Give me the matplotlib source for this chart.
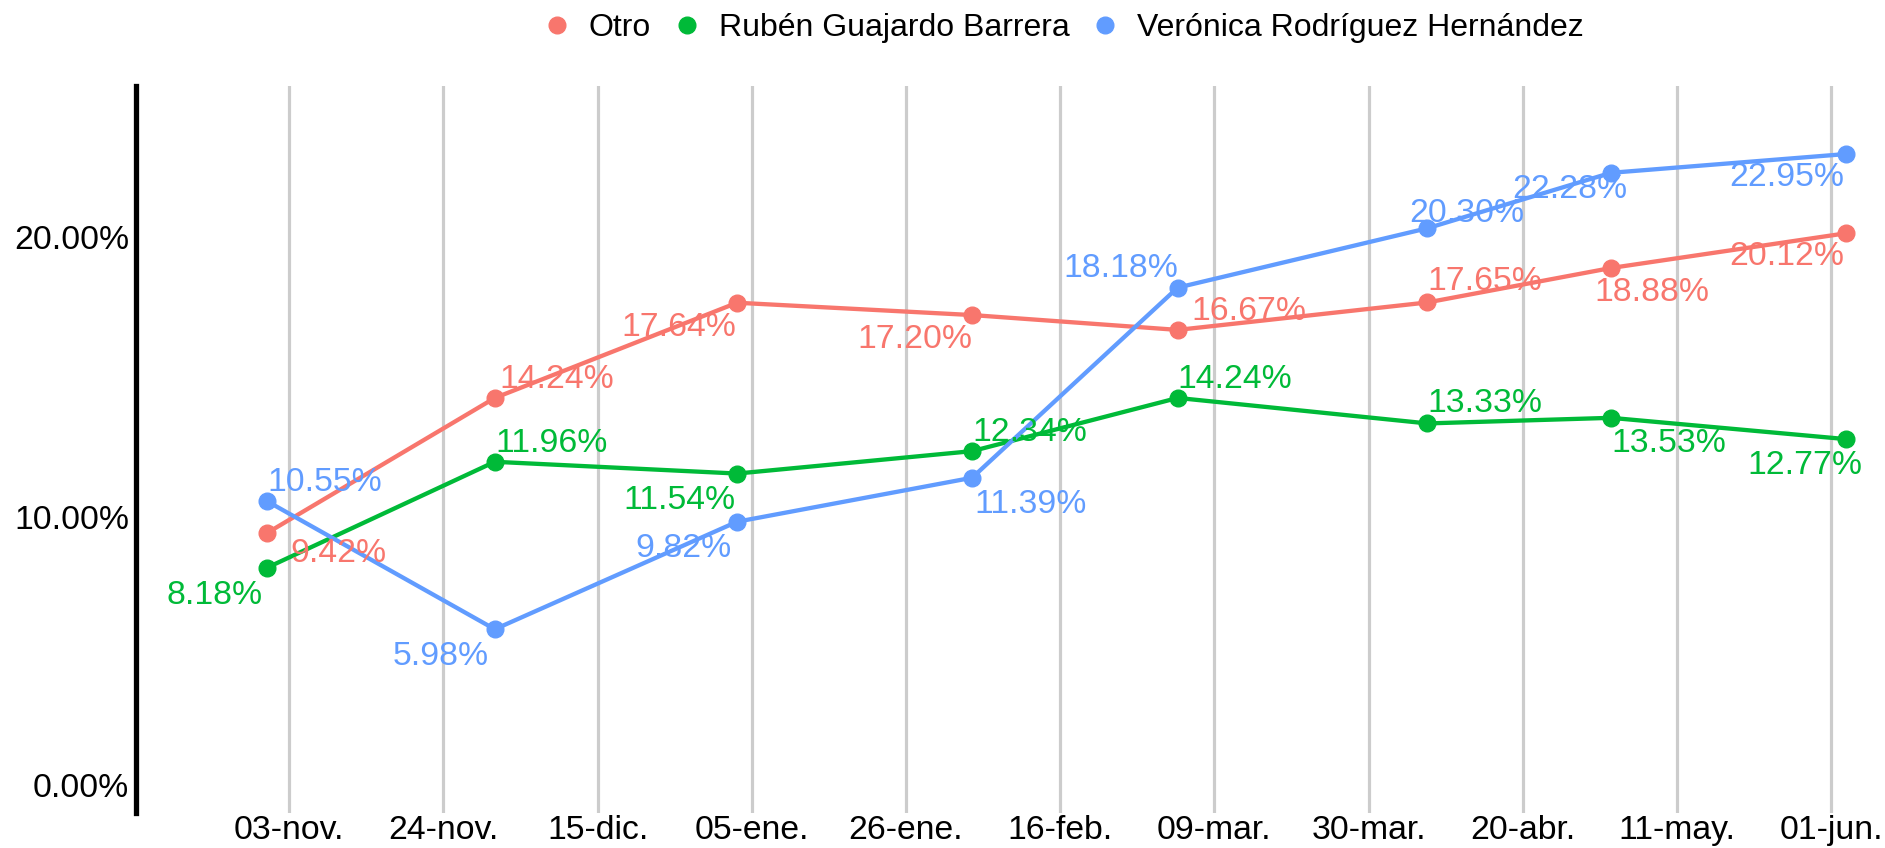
import datetime as dt

import matplotlib
matplotlib.use("Agg")
import matplotlib.pyplot as plt
from matplotlib.lines import Line2D

plt.rcParams["font.family"] = ["Liberation Sans", "DejaVu Sans"]

# datos de las encuestas
fechas = ["2020-10-31", "2020-12-01", "2021-01-03", "2021-02-04",
          "2021-03-04", "2021-04-07", "2021-05-02", "2021-06-03"]
otro = [9.42, 14.24, 17.64, 17.20, 16.67, 17.65, 18.88, 20.12]
ruben = [8.18, 11.96, 11.54, 12.34, 14.24, 13.33, 13.53, 12.77]
veronica = [10.55, 5.98, 9.82, 11.39, 18.18, 20.30, 22.28, 22.95]
nombres = ["Otro", "Rubén Guajardo Barrera", "Verónica Rodríguez Hernández"]

tick_fechas = ["2020-11-03", "2020-11-24", "2020-12-15", "2021-01-05",
               "2021-01-26", "2021-02-16", "2021-03-09", "2021-03-30",
               "2021-04-20", "2021-05-11", "2021-06-01"]
tick_labels = ["03-nov.", "24-nov.", "15-dic.", "05-ene.", "26-ene.", "16-feb.",
               "09-mar.", "30-mar.", "20-abr.", "11-may.", "01-jun."]
y_ticks = [0, 10, 20]

colores = ["#F8766D", "#00BA38", "#619CFF"]

# desplazamiento de cada etiqueta (px, y hacia arriba)
offs_otro = [(71, -17), (62, 22), (-58, -21), (-57, -21), (71, 22), (57, 24), (41, -21), (-59, -20)]
offs_ruben = [(-53, -24), (57, 22), (-58, -23), (58, 22), (57, 22), (58, 23), (58, -22), (-41, -23)]
offs_vero = [(58, 22), (-54, -24), (-54, -23), (58, -23), (-57, 23), (39, 18), (-41, -13), (-59, -20)]
ytick_nudge = [12, 0, 0]

W, H = 1885, 848
fig = plt.figure(figsize=(W / 100, H / 100), dpi=100)
ax_left, ax_right, ax_top, ax_bottom = 136, 1875, 86, 813.3
ax = fig.add_axes([ax_left / W, 1 - ax_bottom / H,
                   (ax_right - ax_left) / W, (ax_bottom - ax_top) / H])

x = [dt.datetime.strptime(f, "%Y-%m-%d") for f in fechas]
ticks = [dt.datetime.strptime(f, "%Y-%m-%d") for f in tick_fechas]

px_per_day = 7.343
x0 = ticks[0] - dt.timedelta(days=(289.2 - ax_left) / px_per_day)
x1 = x0 + dt.timedelta(days=(ax_right - ax_left) / px_per_day)
ax.set_xlim(x0, x1)
ax.set_ylim(-0.593, 25.38)

for serie, color, offs in zip([otro, ruben, veronica], colores,
                              [offs_otro, offs_ruben, offs_vero]):
    ax.plot(x, serie, color=color, lw=3.1, marker="o", markersize=12, zorder=3)
    for xi, v, (dx, dy) in zip(x, serie, offs):
        ax.annotate(f"{v:.2f}%", xy=(xi, v), xytext=(dx * 0.72, (dy - 12) * 0.72),
                    textcoords="offset points", ha="center", va="baseline",
                    color=color, fontsize=24.3, zorder=4)

ax.set_xticks(ticks)
ax.set_xticklabels(tick_labels, fontsize=24.3)
ax.tick_params(axis="x", length=0, pad=1)
ax.grid(axis="x", color="#CCCCCC", lw=2.3)
ax.set_axisbelow(True)

ax.set_yticks(y_ticks)
ax.set_yticklabels([])
ax.tick_params(axis="y", length=0)
for v, n in zip(y_ticks, ytick_nudge):
    ax.annotate(f"{v:.2f}%", xy=(0, v), xycoords=ax.get_yaxis_transform(),
                xytext=(-6.7 * 0.72, (n - 12) * 0.72), textcoords="offset points",
                ha="right", va="baseline", fontsize=24.3, color="black")

for s in ["top", "right", "bottom"]:
    ax.spines[s].set_visible(False)
ax.spines["left"].set_linewidth(3.8)
ax.spines["left"].set_color("black")

handles = [Line2D([], [], ls="none", marker="o", markersize=12, color=c) for c in colores]
fig.legend(handles, nombres, loc="center", bbox_to_anchor=(0.5635, 0.967), ncol=3,
           frameon=False, fontsize=23, handlelength=1, handletextpad=0.5,
           columnspacing=0.62)

fig.savefig("out.png", dpi=100)
